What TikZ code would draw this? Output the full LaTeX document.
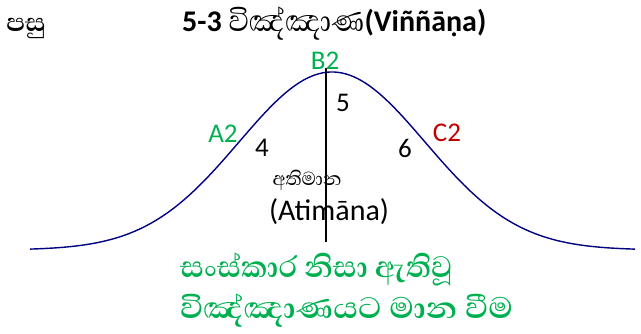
\documentclass[tikz,border=0pt]{standalone}
\usepackage{fontspec}
\usepackage{graphicx}
\setmainfont{Carlito}
\newfontfamily\sinhfont[Script=Sinhala]{Abhaya Libre}
\definecolor{grn}{RGB}{0,176,80}
\definecolor{rd}{RGB}{192,0,0}
\definecolor{navy}{RGB}{0,0,128}
\begin{document}
\begin{tikzpicture}[x=1pt,y=-1pt,
  lbl/.style={inner sep=0pt,font=\fontsize{27}{30}\selectfont},
  gline/.style={inner sep=0pt,anchor=west,text=grn,font=\sinhfont\bfseries\fontsize{38}{40}\selectfont},
  curve/.style={draw=navy,line width=1.4pt},
  axis/.style={draw=black,line width=1.2pt}]
\useasboundingbox (0,0) rectangle (641,333);
\node[inner sep=0pt,font=\sinhfont\bfseries\fontsize{32}{34}\selectfont] (pasu) at (26,28) {පසු};
\node[inner sep=0pt,anchor=west] (title) at (182,24) {\fontsize{30}{32}\selectfont\bfseries 5-3 \resizebox{136pt}{\height}{\fontsize{38}{40}\selectfont\sinhfont\mdseries විඤ්ඤාණ}(Viññāṇa)};
\draw[curve] plot[domain=30:635,samples=160] (\x,{250-178*exp(-((\x-332)/93)^2/2)});
\coordinate (top) at (326,68);
\coordinate (bot) at (326,242);
\draw[axis] (top) -- (bot);
\node[lbl,text=grn] (b2) at (325,61) {B2};
\node[lbl] (n5) at (343,103) {5};
\node[lbl,text=grn] (a2) at (223,134) {A2};
\node[lbl] (n4) at (262,148) {4};
\node[lbl] (n6) at (405,148) {6};
\node[lbl,text=rd] (c2) at (447,133) {C2};
\node[inner sep=0pt,font=\sinhfont\fontsize{24}{26}\selectfont] (ati) at (307,180) {අතිමාන};
\node[inner sep=0pt,font=\fontsize{30}{33}\selectfont] (atim) at (329,212) {(Atimāna)};
\node[gline] (g1) at (180,269) {\resizebox{272pt}{\height}{සංස්කාර නිසා ඇතිවූ}};
\node[gline] (g2) at (180,311) {\resizebox{333pt}{\height}{විඤ්ඤාණයට මාන වීම}};
\end{tikzpicture}
\end{document}
